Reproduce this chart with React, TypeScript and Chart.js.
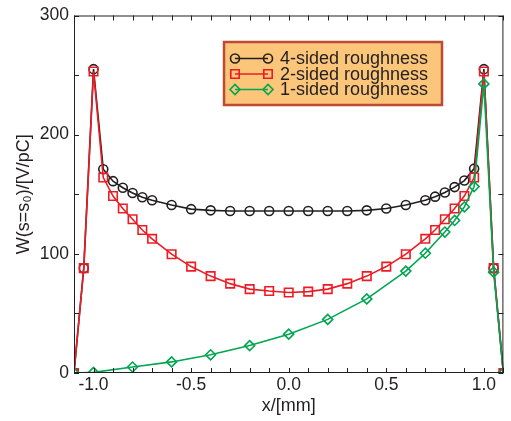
import React, { useEffect, useRef } from "react";
import { Chart, registerables } from "chart.js";

Chart.register(...registerables);

const xFour = [-1.1, -1.05, -1.0, -0.95, -0.9, -0.85, -0.8, -0.75, -0.7, -0.6, -0.5, -0.4, -0.3, -0.2, -0.1, 0, 0.1, 0.2, 0.3, 0.4, 0.5, 0.6, 0.7, 0.75, 0.8, 0.85, 0.9, 0.95, 1.0, 1.05, 1.1];
const fourSided = [0, 88, 255, 171, 161, 155.5, 151, 147.5, 145, 141, 137.5, 136.5, 136, 136, 136, 136, 136, 136, 136, 136.5, 138, 141, 145, 148, 151.5, 156, 161.5, 171.5, 255, 88, 0];

const xTwo = [-1.1, -1.05, -1.0, -0.95, -0.9, -0.85, -0.8, -0.75, -0.7, -0.6, -0.5, -0.4, -0.3, -0.2, -0.1, 0, 0.1, 0.2, 0.3, 0.4, 0.5, 0.6, 0.7, 0.75, 0.8, 0.85, 0.9, 0.95, 1.0, 1.05, 1.1];
const twoSided = [0, 88, 253, 164, 148.5, 138, 129, 120, 112.6, 99.7, 89.3, 81.3, 75, 70.4, 68.8, 67.6, 68.3, 70.4, 75, 81.3, 89.3, 99.7, 112.6, 120, 129, 138, 148.5, 164, 253, 88, 0];

const xOne = [-1.1, -1.0, -0.8, -0.6, -0.4, -0.2, 0, 0.2, 0.4, 0.6, 0.7, 0.8, 0.85, 0.9, 0.95, 1.0, 1.05, 1.1];
const oneSided = [0, 0.5, 5, 9.3, 15.3, 23, 32.6, 45, 62.2, 85.5, 100.5, 118.3, 128, 139.4, 156.4, 242.6, 84.6, 0];

const seriesNames = ["4-sided roughness", "2-sided roughness", "1-sided roughness"];
const xTickLabels = [-1.0, -0.5, 0.0, 0.5, 1.0];
const yTickLabels = [0, 100, 200, 300];
const xTitle = "x/[mm]";
const yTitle = "W(s=s\u2080)/[V/pC]";

const BLACK = "#231f20";
const RED = "#ed1c24";
const GREEN = "#00a651";
const FONT = "'Liberation Sans', Arial, Helvetica, sans-serif";
const TEXT = "#231f20";

const toPts = (xs: number[], ys: number[]) => xs.map((x, i) => ({ x, y: ys[i] }));

function drawMarker(ctx: CanvasRenderingContext2D, style: string, x: number, y: number, color: string) {
  ctx.save();
  ctx.strokeStyle = color;
  ctx.lineWidth = 1.6;
  ctx.beginPath();
  if (style === "circle") {
    ctx.arc(x, y, 4.5, 0, Math.PI * 2);
  } else if (style === "rect") {
    ctx.rect(x - 4.2, y - 4.2, 8.4, 8.4);
  } else {
    ctx.moveTo(x - 5, y);
    ctx.lineTo(x, y - 5);
    ctx.lineTo(x + 5, y);
    ctx.lineTo(x, y + 5);
    ctx.closePath();
  }
  ctx.stroke();
  ctx.restore();
}

const framePlugin = {
  id: "frame",
  afterDatasetsDraw(chart: any) {
    const { ctx, chartArea, scales } = chart;
    const { left, right, top, bottom } = chartArea;
    const xs = scales.x;
    const ys = scales.y;
    ctx.save();
    ctx.strokeStyle = TEXT;
    ctx.lineWidth = 1;
    ctx.strokeRect(left + 0.5, top + 0.5, right - left - 1, bottom - top - 1);
    const L = 5;
    ctx.beginPath();
    for (let i = -11; i <= 11; i++) {
      const px = Math.round(xs.getPixelForValue(i / 10)) + 0.5;
      ctx.moveTo(px, bottom);
      ctx.lineTo(px, bottom - L);
      ctx.moveTo(px, top);
      ctx.lineTo(px, top + L);
    }
    for (let v = 0; v <= 300; v += 50) {
      const py = Math.round(ys.getPixelForValue(v)) + 0.5;
      ctx.moveTo(left, py);
      ctx.lineTo(left + L, py);
      ctx.moveTo(right, py);
      ctx.lineTo(right - L, py);
    }
    ctx.stroke();

    // legend
    const bx = 224, by = 42, bw = 218, bh = 63;
    ctx.fillStyle = "#fbc57a";
    ctx.fillRect(bx, by, bw, bh);
    ctx.strokeStyle = "#bd4a33";
    ctx.lineWidth = 2.5;
    ctx.strokeRect(bx, by, bw, bh);
    const colors = [BLACK, RED, GREEN];
    const styles = ["circle", "rect", "rectRot"];
    const rowsY = [58.5, 74, 89.5];
    ctx.font = `18px ${FONT}`;
    ctx.textBaseline = "middle";
    ctx.textAlign = "left";
    for (let i = 0; i < 3; i++) {
      const y = rowsY[i];
      ctx.strokeStyle = colors[i];
      ctx.lineWidth = 1.6;
      ctx.beginPath();
      ctx.moveTo(235, y);
      ctx.lineTo(268, y);
      ctx.stroke();
      drawMarker(ctx, styles[i], 235, y, colors[i]);
      drawMarker(ctx, styles[i], 268, y, colors[i]);
      ctx.fillStyle = TEXT;
      ctx.fillText(seriesNames[i], 280, y + 1);
    }
    ctx.restore();
  },
};

export default function App() {
  const ref = useRef<HTMLCanvasElement | null>(null);
  useEffect(() => {
    if (!ref.current) return;
    const mk = (label: string, xs: number[], ys: number[], color: string, style: string, r: number, order: number) => ({
      label,
      data: toPts(xs, ys),
      showLine: true,
      borderColor: color,
      borderWidth: 1.6,
      backgroundColor: color,
      pointStyle: style,
      pointRadius: r,
      pointBorderWidth: 1.6,
      pointBorderColor: color,
      pointBackgroundColor: "rgba(0,0,0,0)",
      tension: 0,
      order,
    });
    const chart = new Chart(ref.current, {
      type: "scatter",
      data: {
        datasets: [
          mk(seriesNames[0], xFour, fourSided, BLACK, "circle", 4.5, 3),
          mk(seriesNames[1], xTwo, twoSided, RED, "rect", 6, 2),
          mk(seriesNames[2], xOne, oneSided, GREEN, "rectRot", 5, 1),
        ] as any,
      },
      options: {
        animation: false,
        responsive: false,
        maintainAspectRatio: false,
        layout: { padding: { top: 8, right: 3, left: 0, bottom: 0 } },
        plugins: { legend: { display: false }, tooltip: { enabled: false } },
        scales: {
          x: {
            type: "linear",
            min: -1.1,
            max: 1.1,
            grid: { display: false, drawTicks: false },
            border: { display: false },
            afterBuildTicks: (s: any) => {
              s.ticks = xTickLabels.map((v) => ({ value: v }));
            },
            afterFit: (s: any) => {
              s.height = 48;
            },
            ticks: {
              padding: 2,
              color: TEXT,
              font: { family: FONT, size: 17.5 },
              maxRotation: 0,
              callback: (v: any) => Number(v).toFixed(1),
            },
            title: {
              display: true,
              text: xTitle,
              color: TEXT,
              font: { family: FONT, size: 18 },
              padding: { top: 0, bottom: 4 },
            },
          },
          y: {
            type: "linear",
            min: 0,
            max: 300,
            grid: { display: false, drawTicks: false },
            border: { display: false },
            afterBuildTicks: (s: any) => {
              s.ticks = yTickLabels.map((v) => ({ value: v }));
            },
            afterFit: (s: any) => {
              s.width = 74;
            },
            ticks: {
              padding: 5,
              color: TEXT,
              font: { family: FONT, size: 17.5 },
              callback: (v: any) => String(v),
            },
            title: {
              display: true,
              text: yTitle,
              color: TEXT,
              font: { family: FONT, size: 18 },
              padding: { top: 13, bottom: 0 },
            },
          },
        },
      },
      plugins: [framePlugin],
    } as any);
    return () => chart.destroy();
  }, []);
  return (
    <div style={{ position: "absolute", left: 0, top: 0, width: 511, height: 421, background: "#fff" }}>
      <canvas ref={ref} width={511} height={421} style={{ width: 511, height: 421, display: "block" }} />
    </div>
  );
}
